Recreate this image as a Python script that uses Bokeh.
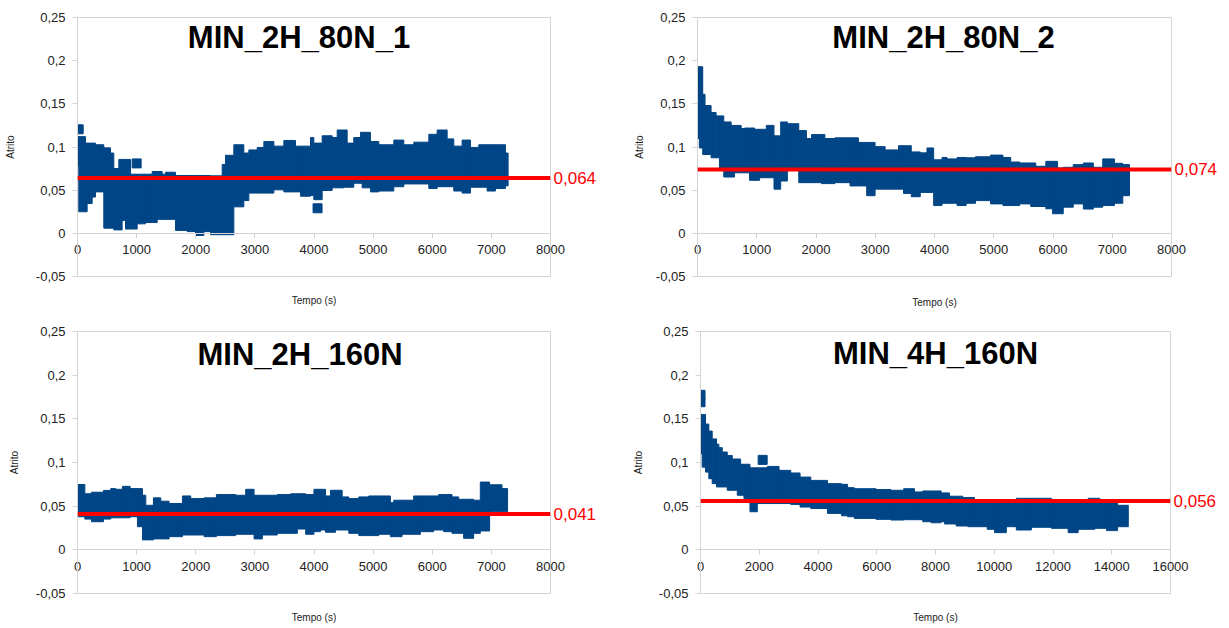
from bokeh.plotting import figure
from bokeh.layouts import column, row
from bokeh.models import FixedTicker, Span, Label, Range1d, LinearAxis
from bokeh.embed import file_html
from bokeh.resources import INLINE

# ---------------- data ----------------
titles = ["MIN_2H_80N_1", "MIN_2H_80N_2", "MIN_2H_160N", "MIN_4H_160N"]
means = [0.064, 0.074, 0.041, 0.056]
mean_labels = ["0,064", "0,074", "0,041", "0,056"]
y_ticks = [-0.05, 0.0, 0.05, 0.1, 0.15, 0.2, 0.25]
y_tick_labels = ["-0,05", "0", "0,05", "0,1", "0,15", "0,2", "0,25"]
x_max = [8000, 8000, 8000, 16000]
x_step = [1000, 1000, 1000, 2000]

# envelope of the scatter cloud: bin edges (s), upper and lower friction
p1_edges = [-90, 22, 135, 163, 248, 304, 445, 558, 614, 699, 755, 812, 896, 1009, 1150,
            1263, 1348, 1432, 1488, 1657, 1855, 1996, 2137, 2249, 2447, 2503, 2644, 2813,
            2898, 3039, 3152, 3321, 3490, 3687, 3772, 3941, 3997, 4138, 4307, 4392, 4504,
            4561, 4673, 4786, 4814, 4955, 5096, 5350, 5519, 5688, 5942, 6083, 6252, 6364,
            6505, 6646, 6787, 6928, 7069, 7238, 7283]
p1_hi = [0.112, 0.112, 0.1045, 0.1045, 0.1045, 0.1026, 0.099, 0.093, 0.075, 0.0856,
         0.0856, 0.0856, 0.0685, 0.0685, 0.0685, 0.0716, 0.0716, 0.0685, 0.0708, 0.067,
         0.067, 0.067, 0.067, 0.0666, 0.0798, 0.0904, 0.1026, 0.093, 0.0966, 0.0995,
         0.1064, 0.101, 0.1076, 0.101, 0.101, 0.111, 0.1045, 0.113, 0.111, 0.1197,
         0.1197, 0.1045, 0.111, 0.117, 0.117, 0.1064, 0.1026, 0.108, 0.1026, 0.1056,
         0.1147, 0.1197, 0.1094, 0.101, 0.108, 0.0995, 0.1026, 0.1026, 0.1026, 0.093]
p1_lo = [0.078, 0.025, 0.025, 0.0345, 0.042, 0.048, 0.006, 0.006, 0.004, 0.004,
         0.015, 0.005, 0.005, 0.011, 0.0125, 0.0125, 0.0162, 0.0162, 0.0162, 0.0034,
         0.002, -0.0025, 0.002, -0.0016, -0.0016, -0.0016, 0.0307, 0.038, 0.0466, 0.0466,
         0.0466, 0.0504, 0.048, 0.048, 0.043, 0.0439, 0.039, 0.0496, 0.0527, 0.0527,
         0.0534, 0.0534, 0.058, 0.058, 0.0527, 0.048, 0.049, 0.054, 0.0572, 0.0572,
         0.0519, 0.054, 0.054, 0.049, 0.0466, 0.0534, 0.0534, 0.049, 0.0519, 0.055]
p1_out_x = [20, 1000, 4060]
p1_out_y = [0.1205, 0.081, 0.029]

p2_edges = [-82, -26, 31, 88, 127, 229, 314, 370, 444, 568, 624, 737, 794, 879, 963, 1048,
            1161, 1291, 1404, 1517, 1709, 1839, 1924, 2093, 2150, 2319, 2574, 2715, 2856,
            2997, 3167, 3280, 3393, 3477, 3608, 3760, 3873, 3986, 4127, 4212, 4381, 4534,
            4692, 4946, 5155, 5286, 5438, 5624, 5709, 5879, 5992, 6077, 6173, 6342, 6512,
            6681, 6839, 7037, 7178, 7291]
p2_hi = [0.193, 0.193, 0.193, 0.161, 0.148, 0.140, 0.136, 0.136, 0.129, 0.125,
         0.125, 0.1214, 0.122, 0.122, 0.1205, 0.1205, 0.125, 0.1129, 0.129, 0.127,
         0.119, 0.1098, 0.1144, 0.1144, 0.1098, 0.1106, 0.1106, 0.1053, 0.1053, 0.1004,
         0.0966, 0.0966, 0.1015, 0.1015, 0.0943, 0.0932, 0.0989, 0.0852,
         0.0879, 0.0862, 0.0879, 0.0875, 0.0887, 0.0906, 0.0879, 0.0826, 0.0815, 0.0815,
         0.0777, 0.0834, 0.0834, 0.0758, 0.0765, 0.0796, 0.0815, 0.0765, 0.0862, 0.0811,
         0.0796]
p2_lo = [0.163, 0.1098, 0.0989, 0.0913, 0.0913, 0.0875, 0.0875, 0.0758, 0.0652, 0.0652,
         0.0701, 0.0701, 0.0701, 0.0614, 0.0614, 0.0644, 0.0644, 0.0512, 0.0606, 0.0739,
         0.0587, 0.0587, 0.0587, 0.0576, 0.0576, 0.0587, 0.0549, 0.0549, 0.0436, 0.0512,
         0.0512, 0.0512, 0.0512, 0.0462, 0.0424, 0.0474, 0.0474, 0.0322,
         0.0348, 0.0348, 0.0322, 0.0348, 0.0379, 0.0341, 0.0322, 0.0322, 0.0341, 0.0311,
         0.0311, 0.0284, 0.0227, 0.0227, 0.0303, 0.0341, 0.0281, 0.0303, 0.0322, 0.0348,
         0.0436]
p2_out_x = []
p2_out_y = []

p3_edges = [-84, -11, 124, 237, 439, 563, 648, 760, 890, 1014, 1099, 1155, 1284, 1408,
            1549, 1775, 1915, 2141, 2349, 2676, 2845, 2986, 3126, 3267, 3380, 3605, 3718,
            3859, 3999, 4110, 4195, 4279, 4363, 4476, 4589, 4758, 4927, 5095, 5292, 5348,
            5489, 5686, 5799, 5912, 6024, 6109, 6193, 6334, 6447, 6531, 6700, 6813, 6970,
            7179, 7274]
p3_hi = [0.0625, 0.0748, 0.0642, 0.066, 0.068, 0.0701, 0.0693, 0.0727, 0.0701, 0.0701,
         0.0625, 0.051, 0.0595, 0.0557, 0.053, 0.0617, 0.0587, 0.0595, 0.0633, 0.0625,
         0.0693, 0.0625, 0.0625, 0.0625, 0.0633, 0.0642, 0.0642, 0.0633, 0.0693,
         0.0693, 0.0617, 0.0682, 0.0682, 0.0606, 0.0587, 0.0606, 0.0617, 0.0617, 0.054,
         0.0568, 0.0568, 0.0617, 0.0617, 0.0617, 0.0617, 0.0633, 0.0633, 0.0606, 0.0579,
         0.0579, 0.0568, 0.0776, 0.0745, 0.0701]
p3_lo = [0.0417, 0.0379, 0.0352, 0.0322, 0.0352, 0.0367, 0.0367, 0.0367, 0.0379, 0.0265,
         0.0114, 0.0114, 0.0125, 0.0125, 0.0151, 0.017, 0.017, 0.0151, 0.0163, 0.0178,
         0.0178, 0.0125, 0.017, 0.017, 0.0189, 0.0189, 0.0238, 0.0178, 0.0208,
         0.0227, 0.0201, 0.0201, 0.0227, 0.0227, 0.0189, 0.0163, 0.0163, 0.0178, 0.0151,
         0.0151, 0.0178, 0.0178, 0.0208, 0.0208, 0.0227, 0.0227, 0.0208, 0.0189, 0.0189,
         0.0132, 0.0189, 0.0216, 0.0435, 0.0435]
p3_out_x = []
p3_out_y = []

p4_edges = [-171, -91, 57, 171, 284, 398, 546, 626, 740, 910, 1081, 1252, 1365, 1479, 1684,
            1934, 2275, 2673, 3072, 3390, 3754, 4323, 4801, 5006, 5234, 5973, 6485, 6917,
            7282, 7566, 7850, 8191, 8305, 8475, 8703, 8930, 9101, 9329, 9761, 10011, 10410,
            10751, 11092, 11263, 11946, 12515, 12856, 13197, 13425, 13596, 13823, 14199,
            14563]
p4_hi = [0.159, 0.155, 0.155, 0.144, 0.136, 0.127, 0.121, 0.117, 0.112, 0.108, 0.104,
         0.104, 0.098, 0.098, 0.0939, 0.0939, 0.0955, 0.091, 0.088, 0.0833, 0.0795,
         0.0758, 0.075, 0.0712, 0.070, 0.069, 0.0682, 0.070, 0.0663, 0.0674, 0.0674,
         0.0652, 0.0652, 0.0614, 0.0614, 0.0598, 0.0598, 0.057, 0.0564, 0.0564, 0.0564,
         0.059, 0.059, 0.059, 0.0564, 0.0564, 0.0564, 0.059, 0.059, 0.0538, 0.0538, 0.051]
p4_lo = [0.129, 0.110, 0.0947, 0.089, 0.0814, 0.0758, 0.072, 0.072, 0.072, 0.0682, 0.0682,
         0.0625, 0.0625, 0.0587, 0.0436, 0.053, 0.053, 0.053, 0.052, 0.049, 0.0473,
         0.0417, 0.039, 0.0379, 0.036, 0.0349, 0.0341, 0.0345, 0.0345, 0.0322, 0.031,
         0.0322, 0.0296, 0.0296, 0.0273, 0.0273, 0.0265, 0.0265, 0.0235, 0.0197, 0.0265,
         0.0227, 0.0227, 0.0258, 0.0246, 0.0197, 0.0235, 0.0235, 0.0246, 0.0246, 0.022,
         0.0265]
p4_out_x = [0, 0, 2116]
p4_out_y = [0.1775, 0.169, 0.103]

# ---------------- styling ----------------
BLUE = "#004586"
RED = "#ff0000"
GRAY = "#d4d4d4"
TXT = "#222222"
FONT = "Liberation Sans"

# width, height, border left/right/top/bottom, title x/y offsets,
# y-axis label standoff, x-axis title standoff
geom = [
    dict(w=614, h=310, l=77, r=64, t=16, b=30, tx=-15, ty=-20, ls=17, xs=38),
    dict(w=614, h=310, l=83, r=57, t=17, b=29, tx=9, ty=-20, ls=8, xs=40),
    dict(w=614, h=317, l=77, r=64, t=19, b=34, tx=-14, ty=-23, ls=13, xs=38),
    dict(w=614, h=317, l=86, r=58, t=21, b=32, tx=0, ty=-22, ls=12, xs=38),
]


def panel(i, edges, hi, lo, ox, oy):
    g = geom[i]
    p = figure(width=g["w"], height=g["h"], output_backend="svg", toolbar_location=None,
               x_range=Range1d(0, x_max[i]), y_range=Range1d(-0.05, 0.25),
               min_border_left=g["l"], min_border_right=g["r"],
               min_border_top=g["t"], min_border_bottom=g["b"])
    p.background_fill_color = "white"
    p.border_fill_color = "white"
    p.outline_line_color = GRAY
    p.grid.visible = False

    p.quad(left=edges[:-1], right=edges[1:], top=hi, bottom=lo,
           fill_color=BLUE, line_color=BLUE, line_width=1)
    if ox:
        p.scatter(ox, oy, marker="square", size=9, fill_color=BLUE, line_color=BLUE)

    p.add_layout(Span(location=means[i], dimension="width", line_color=RED, line_width=4))
    p.add_layout(Label(x=x_max[i] / 2, y=0.25, x_offset=g["tx"], y_offset=g["ty"],
                       text=titles[i], text_align="center", text_baseline="middle",
                       text_font=FONT, text_font_size="31px", text_font_style="bold",
                       text_color="black"))

    xticks = list(range(0, x_max[i] + 1, x_step[i]))

    # axis line and ticks at y = 0 (no labels)
    zero_axis = LinearAxis(fixed_location=0, ticker=FixedTicker(ticks=xticks),
                           axis_line_color=GRAY, major_tick_line_color=GRAY,
                           minor_tick_line_color=None, major_tick_out=5, major_tick_in=0,
                           major_label_text_font_size="0px", major_label_text_alpha=0)
    p.add_layout(zero_axis, "below")

    # labels of the x axis, lifted up to sit under the y = 0 line
    xa = p.xaxis[0]
    xa.ticker = FixedTicker(ticks=xticks)
    xa.axis_line_color = None
    xa.major_tick_line_color = None
    xa.minor_tick_line_color = None
    xa.major_tick_out = 0
    xa.major_tick_in = 0
    xa.major_label_standoff = -32
    xa.major_label_text_font = FONT
    xa.major_label_text_font_size = "13px"
    xa.major_label_text_color = TXT
    xa.axis_label = "Tempo (s)"
    xa.axis_label_text_font = FONT
    xa.axis_label_text_font_size = "10px"
    xa.axis_label_text_font_style = "normal"
    xa.axis_label_text_color = TXT
    xa.axis_label_standoff = g["xs"]

    ya = p.yaxis[0]
    ya.ticker = FixedTicker(ticks=y_ticks)
    ya.major_label_overrides = dict(zip(y_ticks, y_tick_labels))
    ya.axis_line_color = GRAY
    ya.major_tick_line_color = GRAY
    ya.minor_tick_line_color = None
    ya.major_tick_out = 5
    ya.major_tick_in = 0
    ya.major_label_standoff = 7
    ya.major_label_text_font = FONT
    ya.major_label_text_font_size = "13px"
    ya.major_label_text_color = TXT
    ya.axis_label = "Atrito"
    ya.axis_label_text_font = FONT
    ya.axis_label_text_font_size = "10px"
    ya.axis_label_text_font_style = "normal"
    ya.axis_label_text_color = TXT
    ya.axis_label_standoff = g["ls"]

    # mean value printed to the right of the red line
    mean_axis = LinearAxis(ticker=FixedTicker(ticks=[means[i]]),
                           major_label_overrides={means[i]: mean_labels[i]},
                           axis_line_color=None, major_tick_line_color=None,
                           minor_tick_line_color=None, major_tick_out=0, major_tick_in=0,
                           major_label_standoff=3, major_label_text_color=RED,
                           major_label_text_font=FONT, major_label_text_font_size="17px")
    p.add_layout(mean_axis, "right")
    return p


p1 = panel(0, p1_edges, p1_hi, p1_lo, p1_out_x, p1_out_y)
p2 = panel(1, p2_edges, p2_hi, p2_lo, p2_out_x, p2_out_y)
p3 = panel(2, p3_edges, p3_hi, p3_lo, p3_out_x, p3_out_y)
p4 = panel(3, p4_edges, p4_hi, p4_lo, p4_out_x, p4_out_y)

layout = column(row(p1, p2), row(p3, p4))
open("out.html", "w").write(file_html(layout, INLINE))
